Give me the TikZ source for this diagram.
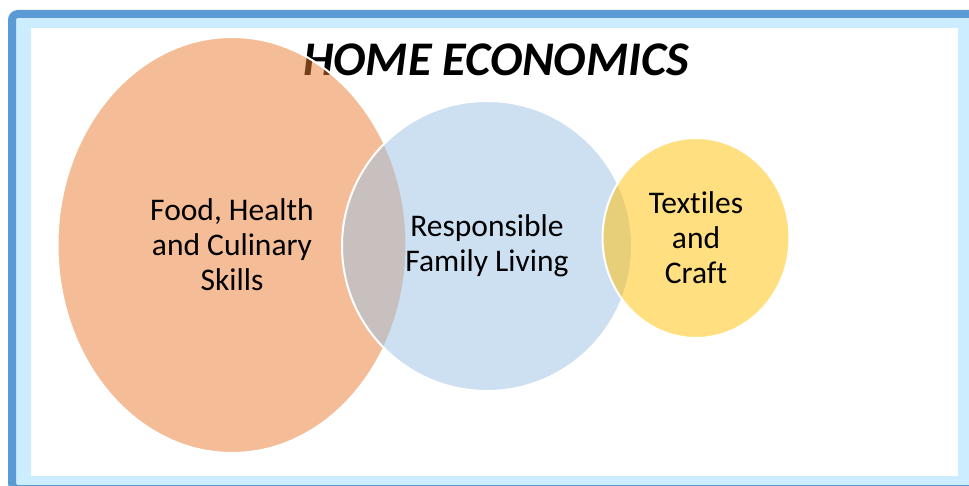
\documentclass[tikz,border=0pt]{standalone}
\usepackage{fontspec}
\setmainfont{Carlito}[Ligatures=NoCommon]
\usetikzlibrary{shapes.geometric}
\definecolor{frameblue}{RGB}{91,155,213}
\definecolor{framelight}{RGB}{204,236,255}
\definecolor{foodorange}{RGB}{237,125,49}
\definecolor{livingblue}{RGB}{157,195,230}
\definecolor{craftyellow}{RGB}{255,192,0}

\begin{document}
\begin{tikzpicture}
        [x=1pt,y=-1pt,
        venn node/.style={ellipse,draw=white,line width=2pt,fill opacity=0.5,text opacity=1,inner sep=0pt,align=center,font=\fontsize{31.5}{35}\selectfont},
        title node/.style={font=\fontsize{48.3}{50}\selectfont\bfseries\itshape}]
    
    \useasboundingbox (0,0) rectangle (969,486);
    \clip (0,0) rectangle (969,486);
    \draw[fill=framelight,draw=frameblue,line width=8pt,rounded corners=6pt] (12,14) rectangle (1000,489);
    \fill[white] (31,28) rectangle (958,476);
    
    \node[title node] (title) at (496,59.5) {HOME ECONOMICS};
    \node[venn node,fill=foodorange,minimum width=349pt,minimum height=416pt] (food) at (232,245) {Food, Health\\and Culinary\\Skills};
    \node[venn node,fill=livingblue,minimum width=290pt,minimum height=290pt] (living) at (487,246) {Responsible\\Family Living};
    \node[venn node,fill=craftyellow,minimum width=187pt,minimum height=200pt] (craft) at (696,238) {Textiles\\and\\Craft};
    
\end{tikzpicture}
\end{document}
